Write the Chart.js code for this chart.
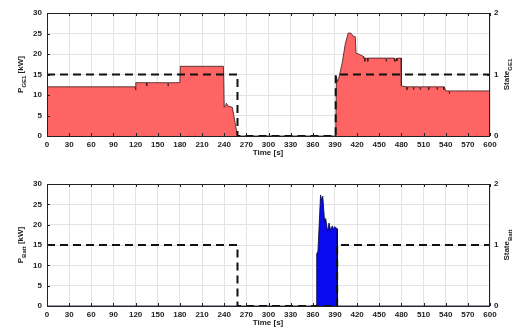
<!DOCTYPE html>
<html>
<head>
<meta charset="utf-8">
<script src="https://cdn.jsdelivr.net/npm/chart.js@4.4.0/dist/chart.umd.min.js"></script>
<style>
  body { margin: 0; background: #fff; }
  canvas { position: absolute; left: 0; }
</style>
</head>
<body>
<canvas id="geChart" width="513" height="165" style="top:0px"></canvas>
<canvas id="battChart" width="513" height="164" style="top:165px"></canvas>
<script>
// ---- datos ----
const timeTicks = [0, 30, 60, 90, 120, 150, 180, 210, 240, 270, 300, 330, 360, 390, 420, 450, 480, 510, 540, 570, 600];
const powerTicks = [0, 5, 10, 15, 20, 25, 30];
const stateTicks = [0, 1, 2];

// P_GE1 [kW]
const geTime = [0, 119.5, 120, 120.5, 134.5, 135, 135.5, 163.5, 164, 164.5, 180, 180.5, 239, 240, 242, 243, 245, 251, 255, 258,
  391, 392, 393.5, 395, 400, 404, 408, 411.5, 415, 417.5, 418.6, 422, 428.5, 429, 430, 430.5, 431, 434, 434.5, 435,
  459, 459.5, 460, 470, 470.5, 471, 472, 473, 474, 475, 479.5, 480,
  487, 487.5, 488, 496, 496.5, 497, 505, 505.5, 506, 516.5, 517, 517.5, 528, 528.5, 529, 537, 537.5, 538, 540,
  544.5, 545, 545.5, 600];
const geKw = [12, 12, 11.2, 13, 13, 12.2, 13, 13, 12.2, 13, 13, 17, 17, 7, 7.5, 8, 7.3, 7, 3, 0,
  0, 14.5, 13.2, 14, 18, 22.5, 25.1, 25.1, 24.3, 24.2, 20.2, 20, 19.4, 19, 19, 18.2, 19, 19, 18.2, 19,
  19, 18.2, 19, 19, 18.2, 19, 18.2, 19, 18.3, 19, 19, 12.2,
  12, 11.3, 12, 12, 11.3, 12, 12, 11.3, 12, 12, 11.3, 12, 12, 11.3, 12, 12, 11.3, 12, 11,
  11, 10.3, 11, 11];
const geStateTime = [0, 258, 258, 391, 391, 600];
const geState = [1, 1, 0, 0, 1, 1];

// P_Batt [kW]
const battTime = [0, 365, 365.3, 367, 370.5, 372, 373.5, 376, 377.5, 380, 382, 384, 386.5, 388, 389.5, 393, 393.3, 600];
const battKw = [0, 0, 12.8, 13.5, 27.3, 26, 27, 20.8, 21.5, 18.3, 20.4, 18.7, 19.7, 18.8, 19.5, 19, 0, 0];
const battStateTime = [0, 258, 258, 393, 393, 600];
const battState = [1, 1, 0, 0, 1, 1];

const tickFont = { family: 'Liberation Sans', size: 8, weight: 'bold' };
const titleFont = 'bold 8px "Liberation Sans"';
const subFont = 'bold 6px "Liberation Sans"';

function puntos(xs, ys) {
  return xs.map((x, i) => ({ x: x, y: ys[i] }));
}

// texto con subindice
function textoSub(ctx, x, y, rot, partes) {
  ctx.save();
  ctx.translate(x, y);
  ctx.rotate(rot);
  ctx.fillStyle = '#222';
  ctx.textBaseline = 'middle';
  ctx.textAlign = 'left';
  let w = 0;
  partes.forEach(p => { ctx.font = p[1] ? subFont : titleFont; w += ctx.measureText(p[0]).width; });
  let cx = -w / 2;
  partes.forEach(p => {
    ctx.font = p[1] ? subFont : titleFont;
    ctx.fillText(p[0], cx, p[1] ? 3 : 0);
    cx += ctx.measureText(p[0]).width;
  });
  ctx.restore();
}

function marco(titulo, estado) {
  return {
    id: 'marco',
    afterDraw(chart) {
      const ctx = chart.ctx, a = chart.chartArea;
      const sx = chart.scales.x, sy = chart.scales.y, s2 = chart.scales.y2;
      ctx.save();
      ctx.strokeStyle = '#222';
      ctx.lineWidth = 1;
      ctx.strokeRect(a.left + 0.5, a.top + 0.5, a.right - a.left - 1, a.bottom - a.top);
      ctx.beginPath();
      timeTicks.forEach(t => {
        const px = Math.round(sx.getPixelForValue(t)) + 0.5;
        ctx.moveTo(px, a.top); ctx.lineTo(px, a.top + 3);
        ctx.moveTo(px, a.bottom); ctx.lineTo(px, a.bottom - 3);
      });
      powerTicks.forEach(v => {
        const py = Math.round(sy.getPixelForValue(v)) + 0.5;
        ctx.moveTo(a.left, py); ctx.lineTo(a.left + 3, py);
      });
      stateTicks.forEach(v => {
        const py = Math.round(s2.getPixelForValue(v)) + 0.5;
        ctx.moveTo(a.right, py); ctx.lineTo(a.right - 3, py);
      });
      ctx.stroke();
      ctx.restore();
      const cy = (a.top + a.bottom) / 2;
      textoSub(ctx, 21, cy, -Math.PI / 2, titulo);
      textoSub(ctx, 507, cy, -Math.PI / 2, estado);
      ctx.save();
      ctx.font = titleFont;
      ctx.fillStyle = '#222';
      ctx.textAlign = 'center';
      ctx.textBaseline = 'middle';
      ctx.fillText('Time [s]', 268, a.bottom + 17);
      ctx.restore();
    }
  };
}

function crear(id, potencia, color, borde, estadoPts, top, ejeX, titulo, estado) {
  return new Chart(document.getElementById(id), {
    type: 'line',
    data: {
      datasets: [
        {
          data: estadoPts,
          yAxisID: 'y2',
          borderColor: '#111',
          borderWidth: 2,
          borderDash: [8, 5],
          pointRadius: 0,
          fill: false
        },
        {
          data: potencia,
          yAxisID: 'y',
          borderColor: borde,
          borderWidth: 0.8,
          backgroundColor: color,
          pointRadius: 0,
          fill: 'origin'
        }
      ]
    },
    options: {
      responsive: false,
      animation: false,
      parsing: true,
      layout: { padding: { top: top, left: 0, right: 0, bottom: 0 } },
      plugins: { legend: { display: false }, tooltip: { enabled: false } },
      scales: {
        x: {
          type: 'linear', min: 0, max: 600,
          afterBuildTicks: s => { s.ticks = timeTicks.map(v => ({ value: v })); },
          afterFit: s => { s.height = ejeX; },
          grid: { color: '#e4e4e4', drawTicks: false },
          border: { display: false },
          ticks: { font: tickFont, color: '#222', padding: 4, maxRotation: 0, autoSkip: false }
        },
        y: {
          position: 'left', min: 0, max: 30,
          afterBuildTicks: s => { s.ticks = powerTicks.map(v => ({ value: v })); },
          afterFit: s => { s.width = 47; },
          grid: { color: '#e4e4e4', drawTicks: false },
          border: { display: false },
          ticks: { font: tickFont, color: '#222', padding: 5 }
        },
        y2: {
          position: 'right', min: 0, max: 2,
          afterBuildTicks: s => { s.ticks = stateTicks.map(v => ({ value: v })); },
          afterFit: s => { s.width = 23; },
          grid: { drawOnChartArea: false, drawTicks: false },
          border: { display: false },
          ticks: { font: tickFont, color: '#222', padding: 4 }
        }
      }
    },
    plugins: [marco(titulo, estado)]
  });
}

crear('geChart', puntos(geTime, geKw), '#ff6464', '#3a1a1a', puntos(geStateTime, geState), 13, 29,
  [['P', false], ['GE1', true], [' [kW]', false]], [['State', false], ['GE1', true]]);
crear('battChart', puntos(battTime, battKw), '#0a0af0', '#00003a', puntos(battStateTime, battState), 19, 23,
  [['P', false], ['Batt', true], [' [kW]', false]], [['State', false], ['Batt', true]]);
</script>
</body>
</html>
